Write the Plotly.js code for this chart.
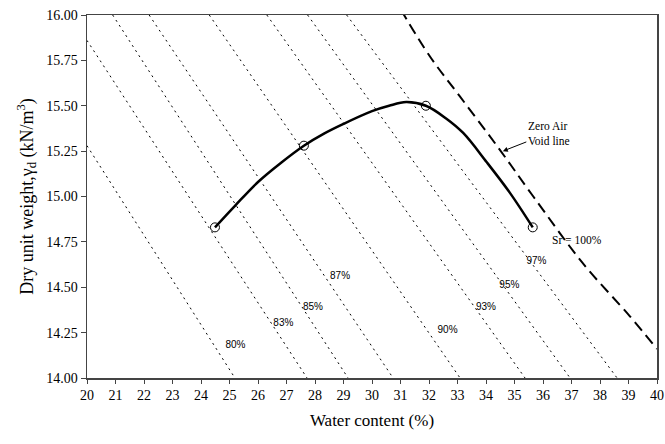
<!DOCTYPE html>
<html>
<head>
<meta charset="utf-8">
<script src="https://cdn.plot.ly/plotly-3.0.1.min.js"></script>
<style>html,body{margin:0;padding:0;background:#fff;}#chart{width:665px;height:444px;}</style>
</head>
<body>
<div id="chart"></div>
<script>
// ---- data ----
// compaction curve (water content %, dry unit weight kN/m3)
const curveW = [24.49, 25.2, 26.0, 26.8, 27.61, 28.3, 29.0, 30.0, 30.6, 31.2, 31.89, 32.6, 33.2, 34.02, 34.84, 35.64];
const curveG = [14.83, 14.95, 15.08, 15.185, 15.28, 15.345, 15.40, 15.47, 15.50, 15.52, 15.50, 15.43, 15.35, 15.19, 15.02, 14.83];
// test points
const testW = [24.49, 27.61, 31.89, 35.64];
const testG = [14.83, 15.28, 15.50, 14.83];
// zero air void line
const zavW = [31.01, 32.04, 33.09, 34.38, 35.66, 37.41, 39.05, 40.00];
const zavG = [16.03, 15.77, 15.55, 15.28, 15.00, 14.63, 14.34, 14.16];
// constant degree-of-saturation lines (start & end points)
const satLabels = ['80%', '83%', '85%', '87%', '90%', '93%', '95%', '97%'];
const satStartW = [20.00, 20.00, 20.90, 22.18, 24.29, 26.31, 27.74, 29.11];
const satStartG = [15.28, 15.86, 16.00, 16.00, 16.00, 16.00, 16.00, 16.00];
const satEndW = [25.19, 27.72, 29.16, 30.74, 33.09, 35.37, 36.95, 38.60];
const satEndG = [14.00, 14.00, 14.00, 14.00, 14.00, 14.00, 14.00, 14.00];
// label anchor points for the saturation lines
const satLabelW = [25.21, 26.89, 27.93, 28.88, 32.65, 34.00, 34.82, 35.77];
const satLabelG = [14.18, 14.30, 14.39, 14.56, 14.26, 14.39, 14.51, 14.64];
// axis ticks
const xTicks = [20,21,22,23,24,25,26,27,28,29,30,31,32,33,34,35,36,37,38,39,40];
const yTicks = [14.00, 14.25, 14.50, 14.75, 15.00, 15.25, 15.50, 15.75, 16.00];

const serif = '"Liberation Serif", "Times New Roman", serif';
const sans = '"Liberation Sans", Arial, sans-serif';

const traces = [];
for (let i = 0; i < satLabels.length; i++) {
  traces.push({
    x: [satStartW[i], satEndW[i]],
    y: [satStartG[i], satEndG[i]],
    mode: 'lines',
    line: {color: '#000', width: 1, dash: '2px,4px'},
    hoverinfo: 'skip', showlegend: false
  });
}
traces.push({
  x: zavW, y: zavG, mode: 'lines',
  line: {color: '#000', width: 2, dash: '11px,6px', shape: 'spline'},
  showlegend: false
});
traces.push({
  x: curveW, y: curveG, mode: 'lines',
  line: {color: '#000', width: 2.5, shape: 'spline', smoothing: 1},
  showlegend: false
});
traces.push({
  x: testW, y: testG, mode: 'markers',
  marker: {symbol: 'circle', size: 9, color: 'rgba(255,255,255,0)', line: {color: '#000', width: 1}},
  showlegend: false
});
traces.push({
  x: satLabelW, y: satLabelG, mode: 'text', text: satLabels,
  textfont: {family: sans, size: 10, color: '#000'},
  textposition: 'middle center', showlegend: false
});

const annotations = [
  {x: 34.59, y: 15.25, xref: 'x', yref: 'y', text: 'Zero Air<br>Void line',
   showarrow: true, ax: 46, ay: -18, arrowhead: 2, arrowsize: 1, arrowwidth: 1,
   arrowcolor: '#000', align: 'left', font: {family: serif, size: 11.5, color: '#000'}},
  {x: 37.19, y: 14.76, xref: 'x', yref: 'y', text: 'Sr = 100%', showarrow: false,
   font: {family: serif, size: 11.5, color: '#000'}}
];

const layout = {
  width: 665, height: 444,
  margin: {l: 87, r: 8, t: 15, b: 66},
  paper_bgcolor: '#fff', plot_bgcolor: '#fff',
  showlegend: false,
  xaxis: {
    range: [20, 40], tickvals: xTicks, ticktext: xTicks.map(String),
    showgrid: false, zeroline: false, showline: true, mirror: true,
    linecolor: '#444', linewidth: 1.5, ticks: 'outside', ticklen: 4, tickwidth: 1, tickcolor: '#444',
    tickfont: {family: serif, size: 14, color: '#000'},
    title: {text: 'Water content (%)', font: {family: serif, size: 17, color: '#000'}, standoff: 12}
  },
  yaxis: {
    range: [14, 16], tickvals: yTicks, ticktext: yTicks.map(v => v.toFixed(2)),
    showgrid: false, zeroline: false, showline: true, mirror: true,
    linecolor: '#444', linewidth: 1.5, ticks: 'outside', ticklen: 5, tickwidth: 1, tickcolor: '#444',
    tickfont: {family: serif, size: 14, color: '#000'},
    title: {text: 'Dry unit weight,γ<sub>d</sub> (kN/m<sup>3</sup>)', font: {family: serif, size: 18, color: '#000'}, standoff: 8}
  },
  annotations: annotations
};

Plotly.newPlot('chart', traces, layout, {displayModeBar: false, staticPlot: true});
</script>
</body>
</html>
